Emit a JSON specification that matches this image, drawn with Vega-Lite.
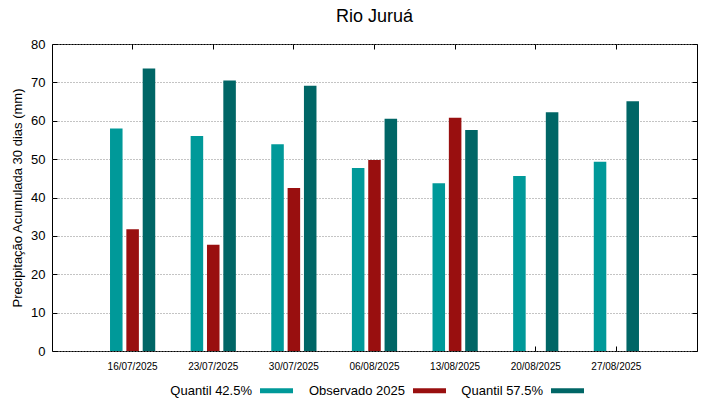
{
  "$schema": "https://vega.github.io/schema/vega-lite/v6.json",
  "autosize": "none",
  "width": 645,
  "height": 307,
  "padding": {"left": 52, "top": 44, "right": 22, "bottom": 48},
  "background": "white",
  "config": {
    "font": "Liberation Sans",
    "view": {"stroke": "black", "strokeWidth": 1},
    "axis": {"domain": false, "labelColor": "black", "titleColor": "black", "tickColor": "black", "labelFont": "Liberation Sans", "titleFont": "Liberation Sans"},
    "legend": {"labelFont": "Liberation Sans"}
  },
  "title": {"text": "Rio Juruá", "fontSize": 18, "fontWeight": "normal", "font": "Liberation Sans", "color": "black", "offset": 12, "anchor": "middle"},
  "data": {"values": [
    {"date": "16/07/2025", "serie": "Quantil 42.5%", "value": 58.0},
    {"date": "16/07/2025", "serie": "Observado 2025", "value": 31.7},
    {"date": "16/07/2025", "serie": "Quantil 57.5%", "value": 73.6},
    {"date": "23/07/2025", "serie": "Quantil 42.5%", "value": 56.0},
    {"date": "23/07/2025", "serie": "Observado 2025", "value": 27.7},
    {"date": "23/07/2025", "serie": "Quantil 57.5%", "value": 70.5},
    {"date": "30/07/2025", "serie": "Quantil 42.5%", "value": 53.9},
    {"date": "30/07/2025", "serie": "Observado 2025", "value": 42.5},
    {"date": "30/07/2025", "serie": "Quantil 57.5%", "value": 69.1},
    {"date": "06/08/2025", "serie": "Quantil 42.5%", "value": 47.7},
    {"date": "06/08/2025", "serie": "Observado 2025", "value": 49.8},
    {"date": "06/08/2025", "serie": "Quantil 57.5%", "value": 60.5},
    {"date": "13/08/2025", "serie": "Quantil 42.5%", "value": 43.7},
    {"date": "13/08/2025", "serie": "Observado 2025", "value": 60.8},
    {"date": "13/08/2025", "serie": "Quantil 57.5%", "value": 57.6},
    {"date": "20/08/2025", "serie": "Quantil 42.5%", "value": 45.6},
    {"date": "20/08/2025", "serie": "Quantil 57.5%", "value": 62.2},
    {"date": "27/08/2025", "serie": "Quantil 42.5%", "value": 49.3},
    {"date": "27/08/2025", "serie": "Quantil 57.5%", "value": 65.1}
  ]},
  "layer": [
    {
      "mark": {"type": "bar"},
      "encoding": {
        "x": {"field": "date", "type": "ordinal", "sort": null,
          "scale": {"paddingInner": 0.392, "paddingOuter": 0.696},
          "axis": {"orient": "bottom", "title": null, "labelAngle": 0, "labelFontSize": 10, "tickSize": -5, "labelPadding": 15, "grid": false}},
        "xOffset": {"field": "serie", "type": "nominal",
          "sort": ["Quantil 42.5%", "Observado 2025", "Quantil 57.5%"],
          "scale": {"paddingInner": 0.233, "paddingOuter": 0.1165}},
        "y": {"field": "value", "type": "quantitative",
          "scale": {"domain": [0, 80], "nice": false},
          "axis": {"orient": "left", "title": "Precipitação Acumulada 30 dias (mm)", "titleFontSize": 13, "titleFontWeight": "normal", "titlePadding": 6, "labelFontSize": 13, "values": [0, 10, 20, 30, 40, 50, 60, 70, 80], "tickSize": -5, "labelPadding": 12, "grid": true, "gridDash": [1, 2], "gridColor": "#888888", "gridWidth": 1}},
        "color": {"field": "serie", "type": "nominal",
          "sort": ["Quantil 42.5%", "Observado 2025", "Quantil 57.5%"],
          "scale": {"domain": ["Quantil 42.5%", "Observado 2025", "Quantil 57.5%"], "range": ["#009999", "#990f0f", "#006666"]},
          "legend": {"title": null, "orient": "none", "direction": "horizontal", "legendX": 208, "legendY": 330,
            "symbolType": "M-1,-0.15H1V0.15H-1Z", "symbolSize": 1089, "symbolStrokeWidth": 0,
            "labelAlign": "right", "labelOffset": -41, "labelFontSize": 13, "labelColor": "black", "columnPadding": 15, "labelLimit": 200}}
      }
    },
    {
      "mark": {"type": "bar", "opacity": 0},
      "encoding": {
        "x": {"field": "date", "type": "ordinal", "sort": null,
          "axis": {"orient": "top", "title": null, "labels": false, "tickSize": -5, "grid": false}},
        "y": {"field": "value", "type": "quantitative", "stack": null,
          "axis": {"orient": "right", "title": null, "labels": false, "values": [0, 10, 20, 30, 40, 50, 60, 70, 80], "tickSize": -5, "grid": false}}
      }
    }
  ],
  "resolve": {"axis": {"x": "independent", "y": "independent"}}
}
